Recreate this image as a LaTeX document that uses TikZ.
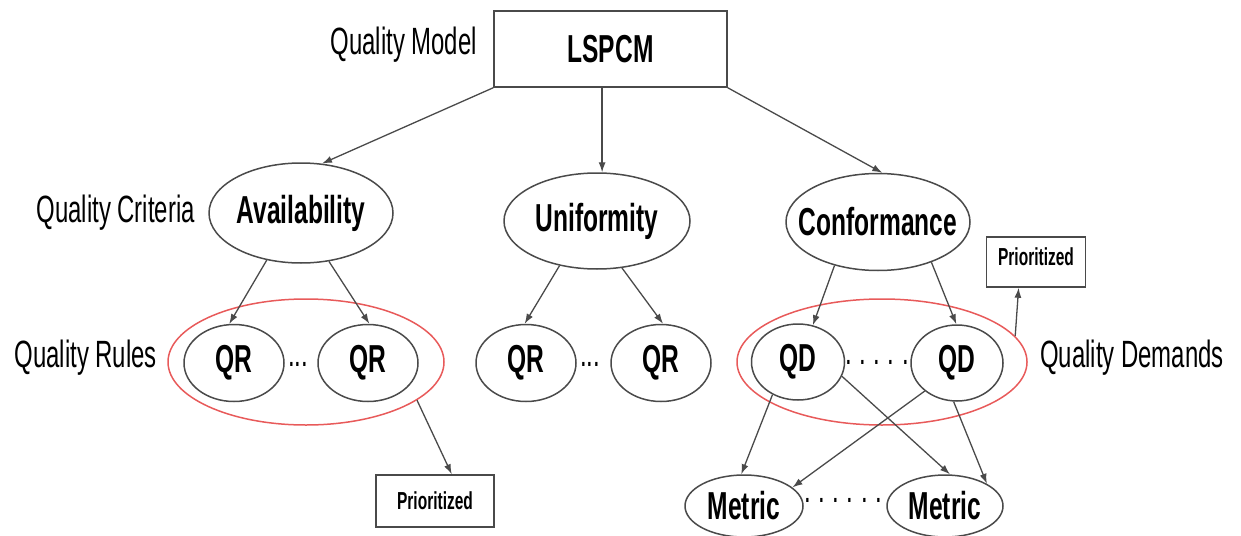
\documentclass[tikz,border=0pt]{standalone}
\usepackage{fontspec}
\setmainfont[FakeStretch=0.63]{Liberation Sans}
\usetikzlibrary{positioning,shapes.geometric,arrows.meta}

\definecolor{linegray}{HTML}{4A4A4A}
\definecolor{setred}{HTML}{E85A5A}

\newcommand{\gapdot}{\hspace{3.8pt}.}

\tikzset{
    bold/.style={font=\fontsize{19.5}{22}\selectfont\bfseries},
    lbl/.style={font=\fontsize{19}{22}\selectfont, inner sep=0pt},
    oval/.style={ellipse, draw=linegray, line width=0.75pt, inner sep=0pt, bold},
    group/.style={ellipse, draw=setred, line width=0.75pt, inner sep=0pt},
    prio/.style={rectangle, draw=linegray, line width=0.75pt, inner sep=0pt,
        font=\fontsize{12.3}{14}\selectfont\bfseries},
    arr/.style={draw=linegray, line width=0.65pt, -{Latex[length=5pt,width=3.5pt]}},
    dots/.style={inner sep=0pt, font=\fontsize{19}{22}\selectfont}
}

\begin{document}
\begin{tikzpicture}[x=0.5pt,y=-0.5pt]
    \useasboundingbox (0,0) rectangle (1241,535);

    % Model
    \node[rectangle, draw=linegray, line width=0.75pt, minimum width=116.5pt, minimum height=38pt, bold] (lspcm) at (610.5,49) {LSPCM};
    \node[lbl, left=8pt of lspcm, yshift=2pt] (model) {Quality Model};

    % Criteria
    \node[oval, minimum width=92pt, minimum height=50pt] (avail) at (301,213) {Availability};
    \node[oval, minimum width=93pt, minimum height=48pt] (unif) at (597,221) {Uniformity};
    \node[oval, inner xsep=-7.5pt, minimum width=92pt, minimum height=48.5pt] (conf) at (878,222) {Conformance};
    \node[lbl, left=6.5pt of avail] (criteria) {Quality Criteria};

    \draw[arr] (lspcm.south west) -- (avail.67);
    \draw[arr] (lspcm.south -| unif.84) -- (unif.84);
    \draw[arr] (lspcm.south east) -- (conf.85);

    % Rules
    \node[group, minimum width=138pt, minimum height=63pt] (rules) at (306,362) {};
    \node[oval, minimum width=50pt, minimum height=38.5pt] (qr1) at (234,363) {QR};
    \node[oval, minimum width=50pt, minimum height=38.5pt] (qr2) at (368,363) {QR};
    \node[dots] (qrdots) at (298,364) {...};
    \node[oval, minimum width=50pt, minimum height=38.5pt] (qr3) at (526,363) {QR};
    \node[oval, minimum width=50pt, minimum height=38.5pt] (qr4) at (661,363) {QR};
    \node[dots] (qrdots2) at (590,364) {...};
    \node[lbl, left=5pt of rules, yshift=2pt] (rulelbl) {Quality Rules};
    \node[prio, minimum width=59pt, minimum height=26pt] (prio1) at (435,501) {Prioritized};

    \draw[arr] (avail.-126) -- (qr1.97);
    \draw[arr] (avail.-60) -- (qr2.88);
    \draw[arr] (unif.-130) -- (qr3.92);
    \draw[arr] (unif.-62) -- (qr4.87);
    \draw[arr] (rules.-19) -- (prio1.58);

    % Demands
    \node[group, minimum width=145pt, minimum height=63pt] (demands) at (882,362) {};
    \node[oval, minimum width=46.5pt, minimum height=38pt] (qd1) at (798,362) {\raisebox{4pt}{QD}};
    \node[oval, minimum width=46pt, minimum height=38pt] (qd2) at (957,363) {QD};
    \node[dots] (qddots) at (877,362) {.\gapdot\gapdot\gapdot\gapdot};
    \node[lbl, right=6pt of demands, yshift=2pt] (demlbl) {Quality Demands};
    \node[prio, minimum width=49.5pt, minimum height=25pt] (prio2) at (1036,262) {\raisebox{5pt}{Prioritized}};

    \draw[arr] (conf.-135) -- (qd1.68);
    \draw[arr] (conf.-37) -- (qd2.91);
    \draw[arr] (demands.11) -- (prio2.-124);

    % Metrics
    \node[oval, minimum width=59pt, minimum height=31pt] (met1) at (744,506) {Metric};
    \node[oval, minimum width=58pt, minimum height=31pt] (met2) at (945,506) {Metric};
    \node[dots] (metdots) at (843,500) {.\gapdot\gapdot\gapdot\gapdot\gapdot};

    \draw[arr] (qd1.-128) -- (met1.95);
    \draw[arr] (qd1.-18) -- (met2.81);
    \draw[arr] (qd2.-139) -- (met1.21);
    \draw[arr] (qd2.-95) -- (met2.28);
\end{tikzpicture}
\end{document}
